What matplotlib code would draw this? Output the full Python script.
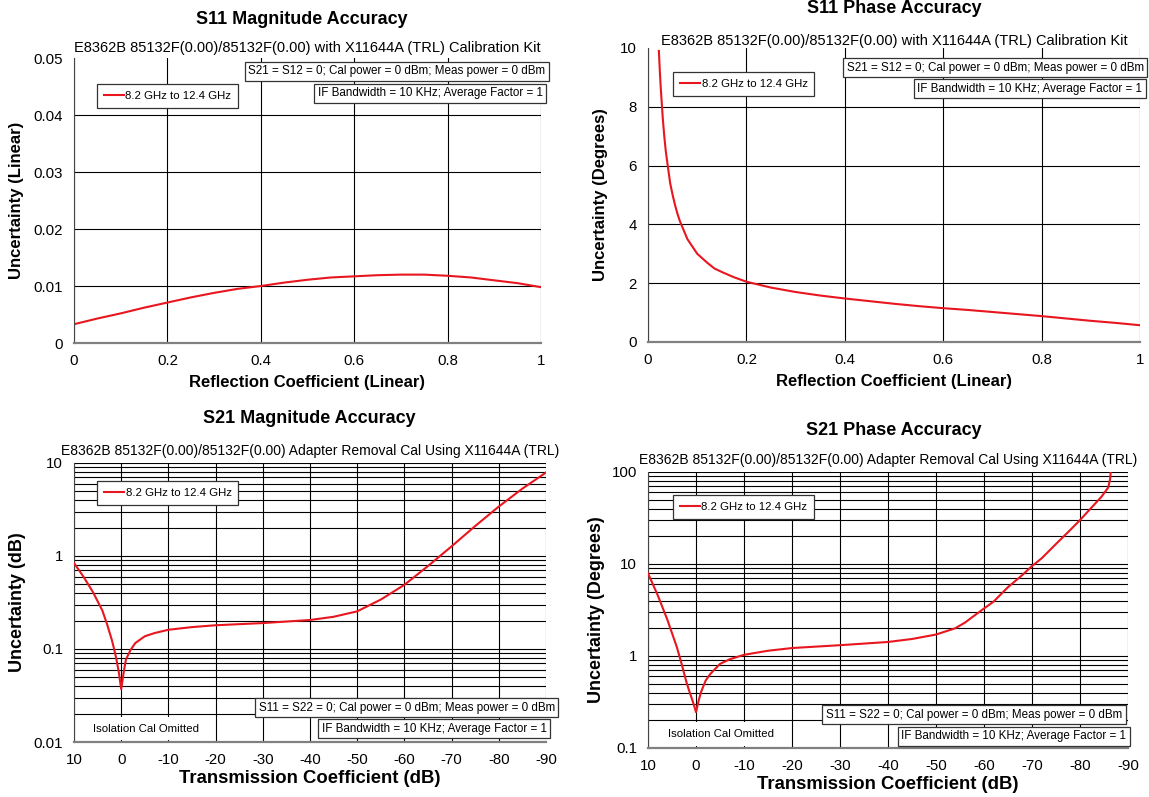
import numpy as np
import matplotlib.pyplot as plt

plt.rcParams['font.family'] = ['Liberation Sans', 'DejaVu Sans']
plt.rcParams['axes.unicode_minus'] = False

# S11 magnitude accuracy (linear)
s11_mag_x = [0.0, 0.05, 0.1, 0.15, 0.2, 0.25, 0.3, 0.35, 0.4, 0.45, 0.5, 0.55, 0.6,
             0.65, 0.7, 0.75, 0.8, 0.85, 0.9, 0.95, 1.0]
s11_mag_y = [0.0033, 0.0043, 0.0052, 0.0062, 0.0071, 0.0080, 0.0088, 0.0095, 0.0100,
             0.0106, 0.0111, 0.0115, 0.0117, 0.0119, 0.0120, 0.0120, 0.0118, 0.0115,
             0.0110, 0.0105, 0.0098]

# S11 phase accuracy (degrees)
s11_ph_x = [0.022, 0.024, 0.026, 0.028, 0.03, 0.033, 0.036, 0.04, 0.045, 0.05, 0.055,
            0.06, 0.065, 0.07, 0.08, 0.09, 0.1, 0.11, 0.12, 0.135, 0.15, 0.175, 0.2,
            0.25, 0.3, 0.35, 0.4, 0.45, 0.5, 0.55, 0.6, 0.65, 0.7, 0.75, 0.8, 0.85,
            0.9, 0.95, 1.0]
s11_ph_y = [9.9, 9.2, 8.6, 8.1, 7.6, 7.0, 6.5, 6.0, 5.4, 5.0, 4.65,
            4.35, 4.1, 3.9, 3.5, 3.25, 3.0, 2.85, 2.7, 2.5, 2.38, 2.2, 2.05,
            1.85, 1.7, 1.58, 1.48, 1.39, 1.3, 1.22, 1.15, 1.09, 1.02, 0.95, 0.88, 0.8,
            0.72, 0.65, 0.57]

# S21 magnitude accuracy (dB), x in dB
s21_mag_x = [10, 8, 6, 4, 3, 2, 1.5, 1, 0.5, 0, -0.5, -1, -2, -3, -5, -7, -10, -15,
             -20, -30, -40, -45, -50, -55, -60, -65, -70, -75, -80, -85, -90]
s21_mag_y = [0.84, 0.60, 0.41, 0.26, 0.185, 0.126, 0.10, 0.077, 0.056, 0.037, 0.055,
             0.077, 0.098, 0.116, 0.137, 0.148, 0.161, 0.172, 0.18, 0.19, 0.205, 0.222,
             0.254, 0.34, 0.49, 0.78, 1.27, 2.1, 3.4, 5.3, 7.9]

# S21 phase accuracy (degrees), x in dB
s21_ph_x = [10, 8, 6, 4, 3, 2, 1.5, 1, 0.5, 0, -0.5, -1, -2, -3, -5, -7, -10, -15,
            -20, -30, -40, -45, -50, -52, -54, -56, -58, -60, -62, -65, -68, -70, -72,
            -75, -78, -80, -82.4, -84.5, -85.9, -86.3, -86.4]
s21_ph_y = [7.9, 4.6, 2.5, 1.25, 0.82, 0.52, 0.43, 0.36, 0.30, 0.245, 0.32, 0.40,
            0.54, 0.64, 0.82, 0.92, 1.03, 1.14, 1.22, 1.31, 1.42, 1.53, 1.71, 1.85,
            2.0, 2.3, 2.75, 3.28, 3.9, 5.6, 7.6, 9.5, 11.5, 16.5, 23.5, 30, 41, 54, 68,
            85, 100]

label = '8.2 GHz to 12.4 GHz'
sub_s11 = 'E8362B 85132F(0.00)/85132F(0.00) with X11644A (TRL) Calibration Kit'
sub_s21 = 'E8362B 85132F(0.00)/85132F(0.00) Adapter Removal Cal Using X11644A (TRL)'
note_s11 = 'S21 = S12 = 0; Cal power = 0 dBm; Meas power = 0 dBm'
note_s21 = 'S11 = S22 = 0; Cal power = 0 dBm; Meas power = 0 dBm'
note_if = 'IF Bandwidth = 10 KHz; Average Factor = 1'
note_iso = 'Isolation Cal Omitted'
red = '#e8161e'

fig = plt.figure(figsize=(11.49, 7.97), dpi=100)
ax1 = fig.add_axes([0.0644, 0.5696, 0.4064, 0.3576])
ax2 = fig.add_axes([0.564, 0.5709, 0.4282, 0.3689])
ax3 = fig.add_axes([0.0644, 0.069, 0.4108, 0.3501])
ax4 = fig.add_axes([0.564, 0.0615, 0.4177, 0.3463])


def style(ax):
    for s in ['top', 'right']:
        ax.spines[s].set_visible(False)
    ax.spines['left'].set_color('#444444')
    ax.spines['bottom'].set_color('#808080')
    ax.spines['bottom'].set_linewidth(1.6)
    ax.tick_params(length=0, labelsize=10.8, pad=8)
    ax.set_axisbelow(True)


def note(ax, txt, x, y):
    ax.text(x, y, txt, transform=ax.transAxes, ha='right', va='center', fontsize=8.4,
            clip_on=False, zorder=5,
            bbox=dict(boxstyle='square,pad=0.3', fc='white', ec='#333333', lw=0.9))


def iso(ax, x, y):
    # white patch hides the grid behind the note, like the original
    ax.text(x, y, note_iso, transform=ax.transAxes, ha='center', va='center',
            fontsize=8.2, zorder=2,
            bbox=dict(boxstyle='square,pad=0.6', fc='white', ec='none'))


def leg(ax, x, y):
    lg = ax.legend(loc='upper left', bbox_to_anchor=(x, y), fontsize=8.2, fancybox=False,
                   edgecolor='#333333', framealpha=1, handlelength=1.8, handletextpad=0.1,
                   borderpad=0.6, borderaxespad=0)
    lg.get_frame().set_linewidth(0.9)


def log_grid(ax):
    ax.tick_params(which='minor', length=0)
    ax.yaxis.set_minor_formatter(plt.NullFormatter())
    ax.grid(True, which='both', axis='y', color='black', lw=0.8)
    ax.grid(True, which='major', axis='x', color='black', lw=0.8)


# S11 magnitude
ax = ax1
style(ax)
ax.plot(s11_mag_x, s11_mag_y, color=red, lw=1.5, label=label)
ax.set_xlim(0, 1)
ax.set_ylim(0, 0.05)
ax.set_xticks([0, 0.2, 0.4, 0.6, 0.8, 1])
ax.set_xticklabels(['0', '0.2', '0.4', '0.6', '0.8', '1'])
ax.set_yticks([0, 0.01, 0.02, 0.03, 0.04, 0.05])
ax.set_yticklabels(['0', '0.01', '0.02', '0.03', '0.04', '0.05'])
ax.grid(True, color='black', lw=0.8)
ax.yaxis.get_gridlines()[-1].set_visible(False)
ax.set_xlabel('Reflection Coefficient (Linear)', fontsize=12, fontweight='bold', labelpad=5)
ax.set_ylabel('Uncertainty (Linear)', fontsize=12, fontweight='bold', labelpad=7)
ax.set_title(sub_s11, fontsize=10.5, pad=4)
fig.text(0.263, 0.975, 'S11 Magnitude Accuracy', ha='center', va='center',
         fontsize=13, fontweight='bold')
leg(ax, 0.049, 0.909)
note(ax, note_s11, 1.009, 0.953)
note(ax, note_if, 1.004, 0.877)

# S11 phase
ax = ax2
style(ax)
ax.plot(s11_ph_x, s11_ph_y, color=red, lw=1.5, label=label)
ax.set_xlim(0, 1)
ax.set_ylim(0, 10)
ax.set_xticks([0, 0.2, 0.4, 0.6, 0.8, 1])
ax.set_xticklabels(['0', '0.2', '0.4', '0.6', '0.8', '1'])
ax.set_yticks([0, 2, 4, 6, 8, 10])
ax.grid(True, color='black', lw=0.8)
ax.yaxis.get_gridlines()[-1].set_visible(False)
ax.set_xlabel('Reflection Coefficient (Linear)', fontsize=12, fontweight='bold', labelpad=5)
ax.set_ylabel('Uncertainty (Degrees)', fontsize=12, fontweight='bold', labelpad=9)
ax.set_title(sub_s11, fontsize=10.5, pad=2)
fig.text(0.778, 0.989, 'S11 Phase Accuracy', ha='center', va='center',
         fontsize=13, fontweight='bold')
leg(ax, 0.051, 0.918)
note(ax, note_s11, 1.008, 0.932)
note(ax, note_if, 1.004, 0.861)

# S21 magnitude
ax = ax3
style(ax)
ax.plot(s21_mag_x, s21_mag_y, color=red, lw=1.5, label=label, zorder=3)
ax.set_yscale('log')
ax.set_xlim(10, -90)
ax.set_ylim(0.01, 10)
ax.set_xticks(np.arange(10, -91, -10))
ax.set_yticks([0.01, 0.1, 1, 10])
ax.set_yticklabels(['0.01', '0.1', '1', '10'])
log_grid(ax)
ax.set_xlabel('Transmission Coefficient (dB)', fontsize=13.3, fontweight='bold', labelpad=2)
ax.set_ylabel('Uncertainty (dB)', fontsize=13, fontweight='bold', labelpad=5)
ax.set_title(sub_s21, fontsize=10, pad=6)
fig.text(0.269, 0.475, 'S21 Magnitude Accuracy', ha='center', va='center',
         fontsize=13, fontweight='bold')
leg(ax, 0.049, 0.935)
note(ax, note_s21, 1.019, 0.123)
note(ax, note_if, 1.002, 0.048)
iso(ax, 0.153, 0.048)

# S21 phase
ax = ax4
style(ax)
ax.plot(s21_ph_x, s21_ph_y, color=red, lw=1.5, label=label, zorder=3)
ax.set_yscale('log')
ax.set_xlim(10, -90)
ax.set_ylim(0.1, 100)
ax.set_xticks(np.arange(10, -91, -10))
ax.set_yticks([0.1, 1, 10, 100])
ax.set_yticklabels(['0.1', '1', '10', '100'])
log_grid(ax)
ax.set_xlabel('Transmission Coefficient (dB)', fontsize=13.3, fontweight='bold', labelpad=2)
ax.set_ylabel('Uncertainty (Degrees)', fontsize=13, fontweight='bold', labelpad=5)
ax.set_title(sub_s21, fontsize=10, pad=6)
fig.text(0.778, 0.46, 'S21 Phase Accuracy', ha='center', va='center',
         fontsize=13, fontweight='bold')
leg(ax, 0.052, 0.917)
note(ax, note_s21, 0.988, 0.121)
note(ax, note_if, 0.996, 0.043)
iso(ax, 0.151, 0.050)

fig.savefig('out.png', dpi=100)
